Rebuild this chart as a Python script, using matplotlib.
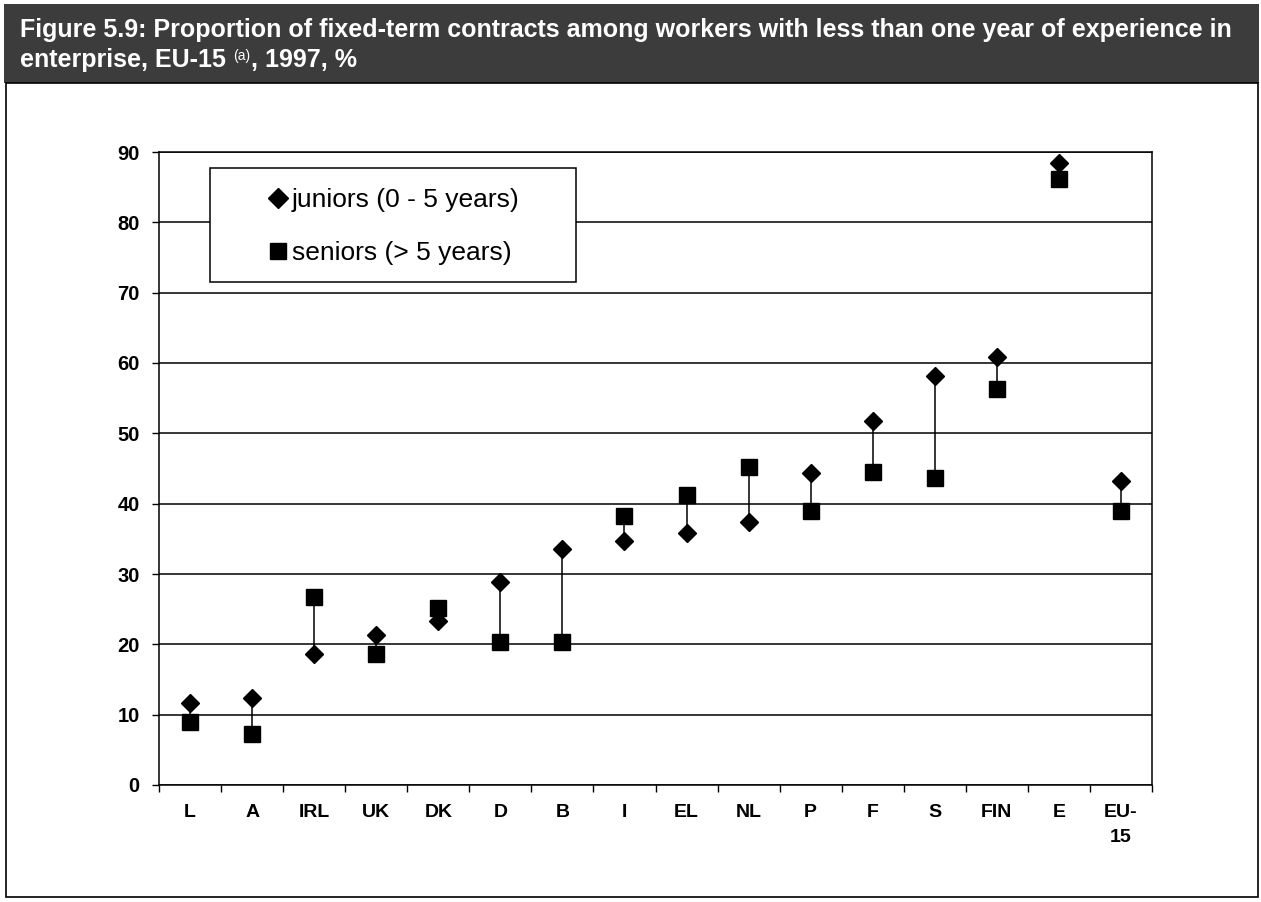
import matplotlib
matplotlib.use("Agg")
import matplotlib.pyplot as plt
from matplotlib.patches import Rectangle
from matplotlib.lines import Line2D
import numpy as np

# Data: share (%) of fixed-term contracts, by country
countries = ["L", "A", "IRL", "UK", "DK", "D", "B", "I", "EL", "NL",
             "P", "F", "S", "FIN", "E", "EU-\n15"]
juniors = [11.7, 12.4, 18.6, 21.3, 23.3, 28.9, 33.5, 34.7, 35.9, 37.4,
           44.3, 51.7, 58.2, 60.9, 88.5, 43.2]
seniors = [8.9, 7.3, 26.7, 18.6, 25.2, 20.4, 20.4, 38.3, 41.2, 45.2,
           39.0, 44.5, 43.6, 56.3, 86.2, 39.0]
yticks = list(range(0, 91, 10))
legend_labels = ["juniors (0 - 5 years)", "seniors (> 5 years)"]
title_line1 = ("Figure 5.9: Proportion of fixed-term contracts among workers "
               "with less than one year of experience in")
title_line2a = "enterprise, EU-15"
title_note = "(a)"
title_line2b = ", 1997, %"

FONT = ["Liberation Sans", "DejaVu Sans"]
plt.rcParams["font.family"] = FONT

W, H = 1261, 902
fig = plt.figure(figsize=(W / 100, H / 100), dpi=100)
fig.patch.set_facecolor("white")


def fx(px):
    return px / W


def fy(py):
    return 1 - py / H


# dark title band and the frame around the chart
band_top, band_bottom = 4, 83
fig.patches.append(Rectangle((fx(4), fy(band_bottom)), fx(1259 - 4),
                             (band_bottom - band_top) / H,
                             transform=fig.transFigure, facecolor="#3c3c3c",
                             edgecolor="none", zorder=0))
fig.patches.append(Rectangle((fx(6), fy(897)), fx(1258 - 6), (897 - band_bottom) / H,
                             transform=fig.transFigure, facecolor="none",
                             edgecolor="black", lw=1.2, zorder=0))

# title, with a raised note marker on the second line
tsize = 18
fig.text(fx(20), fy(37), title_line1, color="white", fontsize=tsize,
         fontweight="bold", va="baseline", ha="left")
renderer = fig.canvas.get_renderer()
t2 = fig.text(fx(20), fy(67), title_line2a, color="white", fontsize=tsize,
              fontweight="bold", va="baseline", ha="left")
x_end = t2.get_window_extent(renderer).x1
t3 = fig.text((x_end + 7) / W, fy(60), title_note, color="white", fontsize=10,
              fontweight="normal", va="baseline", ha="left")
x_end = t3.get_window_extent(renderer).x1
fig.text((x_end + 1) / W, fy(67), title_line2b, color="white", fontsize=tsize,
         fontweight="bold", va="baseline", ha="left")

# plot area
left, right, top, bottom = 159, 1152, 152, 785
ax = fig.add_axes([fx(left), fy(bottom), (right - left) / W, (bottom - top) / H])
x = np.arange(len(countries))
j = np.array(juniors)
s = np.array(seniors)

ax.set_xlim(-0.5, len(countries) - 0.5)
ax.set_ylim(0, 90)
ax.set_yticks(yticks)
ax.yaxis.grid(True, color="black", lw=1.1)
ax.set_axisbelow(True)

ax.vlines(x, np.minimum(j, s), np.maximum(j, s), color="black", lw=1.1, zorder=2)
ax.plot(x, s, linestyle="none", marker="s", ms=11, color="black", zorder=3)
ax.plot(x, j, linestyle="none", marker="D", ms=9.5, color="black", zorder=3)

for sp in ax.spines.values():
    sp.set_color("black")
    sp.set_linewidth(1.1)

ax.set_xticks(x)
ax.set_xticklabels(countries, fontsize=14, fontweight="bold", linespacing=1.6)
ax.set_xticks(np.arange(-0.5, len(countries), 1), minor=True)
ax.tick_params(axis="x", which="major", length=0, pad=14)
ax.tick_params(axis="x", which="minor", length=5, direction="out", width=1)
ax.tick_params(axis="y", length=5, direction="out", width=1, pad=9,
               labelsize=14.5)
for lab in ax.get_yticklabels():
    lab.set_fontweight("bold")

# legend box
lx0, lx1, ly0, ly1 = 210, 576, 282, 168
bx0 = (lx0 - left) / (right - left)
bx1 = (lx1 - left) / (right - left)
by0 = (bottom - ly0) / (bottom - top)
by1 = (bottom - ly1) / (bottom - top)
ax.add_patch(Rectangle((bx0, by0), bx1 - bx0, by1 - by0, transform=ax.transAxes,
                       facecolor="white", edgecolor="black", lw=1.1, zorder=4))
handles = [
    Line2D([], [], linestyle="none", marker="D", ms=10, color="black"),
    Line2D([], [], linestyle="none", marker="s", ms=11.5, color="black"),
]
leg = ax.legend(handles, legend_labels, loc="center",
                bbox_to_anchor=((bx0 + bx1) / 2, (by0 + by1) / 2 - 0.002),
                frameon=False, fontsize=19, handlelength=0.85,
                handletextpad=0.1, labelspacing=1.1, borderpad=0)
leg.set_zorder(5)

fig.savefig("out.png", dpi=100)
